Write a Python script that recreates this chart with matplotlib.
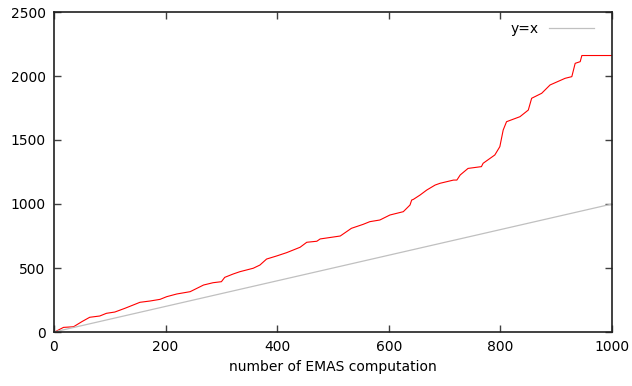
import numpy as np
import matplotlib
matplotlib.use('Agg')
import matplotlib.pyplot as plt

# cumulative count per EMAS computation
emas_x = [0, 2, 17, 35, 50, 64, 82, 94, 109, 127, 142, 154, 172, 190, 202, 220,
          244, 256, 268, 285, 300, 306, 321, 333, 357, 369, 381, 399, 417, 441,
          453, 471, 477, 513, 533, 554, 566, 584, 602, 626, 629, 638, 641, 644,
          656, 668, 683, 692, 716, 722, 728, 742, 766, 769, 790, 799, 805, 811,
          835, 850, 856, 874, 889, 916, 928, 931, 934, 943, 946, 1000]
emas_y = [0, 2, 36, 41, 81, 115, 125, 146, 156, 185, 211, 232, 242, 255, 276, 297,
          315, 341, 367, 385, 393, 427, 453, 471, 498, 523, 570, 594, 620, 662,
          701, 709, 727, 750, 810, 841, 862, 875, 914, 940, 953, 992, 1031, 1036,
          1070, 1109, 1148, 1162, 1187, 1187, 1227, 1278, 1292, 1318, 1383, 1448, 1578, 1643,
          1682, 1734, 1826, 1865, 1930, 1982, 1995, 2047, 2099, 2112, 2160, 2160]

ref_x = [0, 1000]
ref_y = [0, 1000]

x_ticks = [0, 200, 400, 600, 800, 1000]
y_ticks = [0, 500, 1000, 1500, 2000, 2500]

plt.rcParams['font.family'] = 'DejaVu Sans'
fig = plt.figure(figsize=(6.32, 3.86), dpi=100)
ax = fig.add_axes([54 / 632, 1 - 332 / 386, 558 / 632, 320 / 386])

ax.plot(emas_x, emas_y, color='#ff0000', lw=0.8)
ax.plot(ref_x, ref_y, color='#c0c0c0', lw=0.9, label='y=x')

ax.set_xlim(0, 1000)
ax.set_ylim(0, 2500)
ax.set_xticks(x_ticks)
ax.set_yticks(y_ticks)
ax.tick_params(direction='in', length=5, width=1, top=True, right=True,
               labelsize=10, pad=6, color='#404040')
for s in ax.spines.values():
    s.set_linewidth(1.2)
    s.set_color('#202020')

ax.set_xlabel('number of EMAS computation', fontsize=10, labelpad=4)
ax.legend(loc='upper right', frameon=False, markerfirst=False, fontsize=10,
          handlelength=3.2, borderaxespad=0.3, bbox_to_anchor=(0.985, 1.0))

fig.savefig('out.png', dpi=100)
